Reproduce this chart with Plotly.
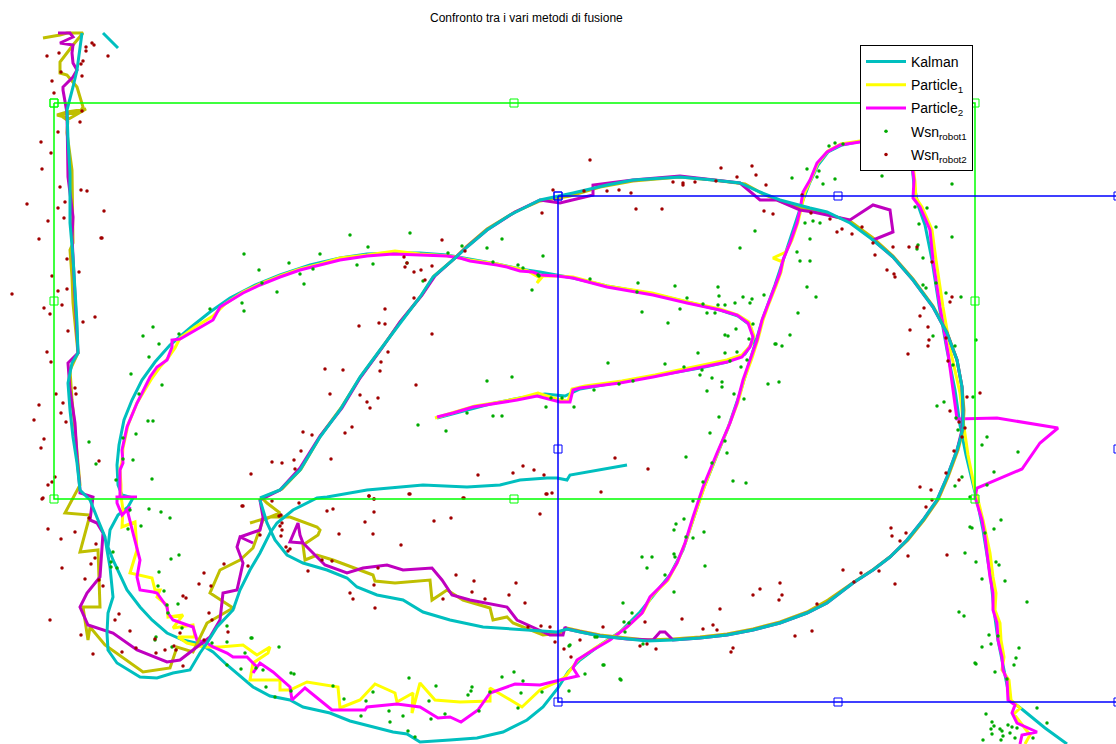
import plotly.graph_objects as go

# ---------------- Robot 1 trajectories ----------------
kalman1_x = [437, 460, 490, 520, 545, 565, 580, 620, 660, 700, 727, 745, 754, 750, 738, 720, 687, 653, 607, 573,
             540, 520, 497, 470, 447, 420, 393, 367, 340, 310, 280, 255, 230, 210, 190, 170, 155, 142, 132, 124,
             119, 117, 118, 122, 133, 128, 118, 110, 108, 113, 120, 127, 140, 152, 167, 183, 200, 213, 227, 253,
             270, 290, 303, 330, 350, 373, 393, 407, 420, 450, 477, 503, 527, 543, 558, 568, 580, 600, 620, 640,
             655, 670, 683, 693, 703, 717, 728, 740, 752, 763, 775, 785, 795, 803, 810, 818, 828, 842, 862, 885,
             903, 912, 914, 918, 925, 932, 939, 947, 955, 960, 966, 972, 978, 983, 987, 991, 994, 998, 1002, 1006,
             1010, 1023, 1045, 1067]
kalman1_y = [418, 412, 404, 398, 394, 396, 389, 382, 375, 368, 362, 354, 340, 325, 316, 310, 302, 294, 286, 278,
             272, 269, 264, 259, 255, 253, 253, 254, 258, 265, 275, 285, 298, 312, 328, 345, 362, 380, 400, 420,
             445, 465, 485, 495, 498, 507, 515, 530, 547, 560, 575, 590, 607, 620, 633, 640, 644, 652, 665, 687,
             696, 700, 707, 713, 721, 727, 732, 734, 742, 740, 738, 732, 720, 707, 688, 672, 660, 645, 632, 612,
             593, 575, 550, 520, 490, 455, 428, 393, 355, 318, 285, 255, 225, 200, 182, 165, 152, 145, 141, 141,
             148, 165, 185, 205, 225, 260, 305, 350, 390, 425, 455, 480, 505, 530, 555, 580, 610, 640, 660, 680,
             700, 710, 728, 744]

part1_r1_x = [435, 455, 475, 500, 520, 538, 560, 568, 572, 585, 622, 655, 700, 727, 742, 751, 754, 749, 738, 720,
              688, 652, 607, 573, 558, 543, 537, 540, 528, 510, 497, 470, 450, 420, 395, 367, 340, 320, 300, 280,
              260, 243, 225, 213, 195, 180, 175, 168, 160, 152, 145, 137, 128, 123, 122, 120, 121, 121, 123, 122,
              135, 137, 130, 152, 155, 160, 157, 167, 168, 183, 173, 193, 195, 178, 187, 203, 220, 243, 257, 270,
              268, 253, 250, 280, 280, 290, 307, 338, 340, 360, 375, 395, 397, 413, 412, 420, 435, 460, 490, 490,
              507, 522, 540, 557, 565, 572, 578, 595, 612, 628, 643, 651, 668, 678, 686, 695, 705, 718, 728, 738,
              744, 752, 758, 763, 768, 776, 781, 783, 773, 786, 792, 798, 801, 805, 811, 818, 828, 841, 860, 885,
              905, 913, 915, 916, 922, 932, 936, 943, 951, 960, 963, 968, 975, 978, 983, 987, 990, 993, 996, 995,
              1000, 1001, 1004, 1002, 1009, 1011, 1020, 1014, 1020, 1030, 1025]
part1_r1_y = [418, 412, 406, 402, 398, 393, 400, 401, 389, 386, 381, 375, 366, 360, 355, 345, 336, 322, 315, 309,
              302, 293, 286, 277, 276, 276, 283, 278, 271, 267, 264, 260, 256, 254, 251, 255, 258, 264, 269, 276,
              284, 292, 304, 316, 327, 338, 348, 358, 367, 378, 390, 403, 425, 448, 462, 470, 485, 496, 510, 527,
              522, 550, 573, 578, 590, 590, 597, 605, 617, 615, 628, 625, 637, 637, 643, 647, 647, 645, 655, 647,
              653, 663, 680, 680, 690, 690, 682, 687, 708, 700, 684, 693, 702, 693, 713, 683, 700, 702, 701, 688,
              698, 707, 690, 682, 677, 668, 660, 648, 638, 626, 612, 597, 580, 561, 541, 514, 485, 452, 428, 402,
              380, 358, 339, 320, 306, 286, 272, 262, 258, 252, 240, 222, 210, 192, 179, 163, 151, 144, 141, 141,
              150, 165, 182, 198, 207, 230, 260, 307, 353, 393, 420, 455, 490, 500, 520, 537, 553, 577, 593, 610,
              623, 640, 657, 670, 680, 700, 708, 714, 722, 735, 744]

part2_r1_x = [437, 453, 473, 487, 517, 537, 560, 570, 573, 580, 620, 653, 703, 727, 742, 750, 753, 748, 737, 720,
              687, 653, 607, 573, 557, 540, 533, 520, 507, 497, 470, 460, 447, 420, 393, 367, 340, 320, 300, 280,
              260, 243, 220, 213, 180, 172, 172, 167, 157, 150, 137, 127, 122, 123, 120, 120, 120, 137, 117, 117,
              122, 130, 128, 133, 140, 137, 140, 153, 157, 167, 168, 173, 193, 197, 207, 213, 227, 233, 247, 257,
              253, 260, 273, 290, 292, 305, 332, 365, 367, 387, 397, 420, 438, 450, 461, 478, 490, 515, 530, 540,
              560, 578, 573, 577, 593, 610, 627, 642, 650, 667, 677, 685, 693, 703, 717, 727, 730, 737, 743, 750,
              757, 762, 767, 775, 780, 783, 790, 797, 800, 803, 810, 817, 827, 840, 860, 885, 905, 912, 914, 913,
              920, 930, 933, 940, 948, 957, 997, 1058, 1040, 1022, 977, 975, 982, 985, 987, 990, 993, 993, 997, 998,
              1002, 1003, 1007, 1008, 1015, 1012, 1017, 1037, 1022, 1020]
part2_r1_y = [417, 413, 407, 405, 400, 396, 402, 402, 390, 388, 383, 377, 367, 362, 357, 347, 337, 323, 315, 310,
              303, 295, 287, 278, 276, 275, 272, 271, 267, 265, 261, 258, 256, 255, 254, 256, 260, 265, 270, 277,
              285, 293, 307, 320, 339, 340, 347, 360, 367, 377, 403, 427, 450, 463, 470, 483, 497, 497, 497, 503,
              515, 507, 513, 533, 560, 577, 590, 592, 593, 607, 613, 620, 627, 640, 643, 647, 653, 657, 657, 667,
              673, 663, 672, 687, 700, 688, 710, 710, 707, 705, 704, 707, 718, 717, 722, 710, 693, 684, 685, 685,
              680, 676, 668, 660, 650, 640, 627, 613, 597, 580, 563, 543, 517, 487, 453, 430, 423, 403, 380, 360,
              340, 320, 307, 287, 273, 260, 243, 223, 210, 192, 180, 163, 152, 145, 142, 142, 150, 165, 180, 198,
              207, 230, 260, 307, 353, 419, 418, 428, 443, 469, 488, 497, 520, 537, 553, 577, 593, 610, 623, 640,
              657, 670, 680, 700, 705, 713, 723, 732, 735, 744]

# ---------------- Robot 2 trajectories ----------------
kalman2_x = [118, 110, 103, None,
             82, 80, 77, 73, 67, 68, 70, 70, 73, 75, 77, 78, 72, 68, 70, 73, 77, 80, 83, 90, 98, 105, 107, 110,
             113, 108, 107, 108, 117, 140, 157, 173, 190, 200, 207, 217, 233, 240, 250, 260, 270, 277, 293, 317,
             327, 367, 423, 467, 500, 520, 547, 557, 567, 570, 627, None,
             260, 280, 300, 320, 340, 360, 380, 400, 420, 433, 453, 467, 487, 510, 540, 573, 607, 633, 680, 713,
             740, 760, 780, 810, 827, 850, 873, 893, 913, 933, 947, 957, 962, 963, 963, 960, 957, 947, 937, 923,
             907, 890, 873, 853, 827, 807, 780, 753, 727, 700, 673, 647, 627, 600, 580, 567, 557, 517, 483, 450,
             423, 403, 377, 357, 347, 327, 303, 287, 275, 267, 260]
kalman2_y = [48, 40, 33, None,
             33, 50, 70, 87, 110, 140, 173, 223, 257, 290, 323, 353, 363, 383, 410, 437, 463, 490, 493, 500, 520,
             537, 550, 567, 597, 613, 633, 650, 663, 677, 678, 673, 670, 653, 643, 627, 610, 590, 570, 553, 533,
             523, 510, 498, 497, 490, 485, 487, 485, 480, 478, 478, 480, 475, 465, None,
             498, 490, 470, 437, 410, 377, 350, 323, 297, 277, 260, 247, 230, 215, 200, 193, 185, 180, 177, 180,
             183, 192, 200, 208, 212, 223, 240, 257, 280, 307, 333, 360, 387, 407, 427, 440, 450, 477, 500, 520,
             540, 557, 570, 583, 603, 613, 623, 630, 635, 638, 640, 641, 639, 636, 632, 629, 632, 629, 627, 620,
             612, 600, 595, 587, 578, 570, 563, 555, 540, 523, 500]

part1_r2_x = [43, 60, 67, 83, 73, 60, 60, 67, 77, 83, 80, 60, 67, 86, 67, 57, 68, 67, 72, 73, 70, 72, 73, 78,
              70, 72, 75, 78, 80, 65, 90, 80, 98, 100, 83, 88, 90, 105, 143, 170, 177, 193, 207, 233, 210, 220,
              240, 253, 263, 280, 267, 262, 282, 301, 321, 341, 361, 381, 401, 421, 434, 454, 467, 487, 515, 540,
              570, 600, 633, 680, 713, 745, 765, 790, 813, 850, 873, 893, 913, 933, 947, 957, 962, 964, 963, 958,
              948, 938, 924, 908, 891, 874, 854, 828, 807, 780, 753, 727, 700, 673, 647, 627, 600, 580, 567, 560,
              543, 513, 507, 493, 490, 463, 447, 432, 430, 395, 375, 373, 352, 333, 317, 305, 303, 318, 320, 317,
              290, 270, 250]
part1_r2_y = [38, 35, 33, 33, 45, 62, 73, 75, 87, 107, 112, 115, 120, 109, 112, 115, 118, 133, 170, 243, 250,
              277, 303, 353, 370, 400, 430, 460, 485, 513, 515, 552, 550, 607, 607, 640, 627, 645, 672, 668, 647,
              652, 623, 608, 593, 570, 560, 548, 520, 513, 503, 498, 489, 469, 435, 408, 376, 349, 321, 296, 276,
              259, 246, 229, 212, 201, 196, 187, 181, 177, 180, 184, 195, 205, 210, 221, 238, 256, 279, 306, 332,
              360, 387, 410, 430, 450, 477, 500, 520, 540, 556, 569, 582, 600, 612, 622, 629, 634, 637, 639, 640,
              638, 635, 631, 628, 633, 635, 623, 617, 620, 608, 600, 590, 600, 580, 583, 581, 575, 567, 560, 555,
              560, 545, 535, 530, 527, 517, 517, 523]

part2_r2_x = [58, 70, 73, 60, 73, 72, 73, 77, 73, 63, 63, 67, 68, 73, 72, 75, 78, 68, 70, 75, 77, 80, 80, 93, 90,
              97, 103, 100, 87, 80, 88, 113, 137, 167, 180, 193, 210, 220, 223, 237, 243, 237, 240, 253, 240, 260,
              263, 260, 280, 300, 320, 342, 360, 382, 400, 422, 435, 455, 468, 487, 515, 540, 560, 593, 593, 617,
              633, 680, 713, 740, 760, 777, 800, 813, 850, 873, 890, 893, 873, 893, 913, 933, 947, 957, 962, 963,
              962, 957, 947, 937, 923, 907, 890, 873, 853, 827, 807, 780, 753, 727, 700, 673, 665, 660, 653, 627,
              600, 580, 567, 565, 563, 550, 533, 517, 507, 470, 452, 442, 432, 403, 387, 363, 347, 325, 303, 300,
              298, 290, 303]
part2_r2_y = [33, 33, 37, 43, 45, 53, 63, 70, 77, 87, 90, 113, 177, 217, 237, 297, 353, 363, 390, 423, 457, 490,
              493, 497, 520, 523, 533, 577, 593, 607, 625, 633, 650, 662, 660, 650, 637, 620, 593, 590, 563, 547,
              537, 543, 537, 530, 517, 500, 490, 468, 436, 408, 378, 348, 322, 295, 276, 258, 246, 230, 212, 200,
              203, 195, 185, 182, 180, 176, 180, 183, 200, 200, 210, 212, 220, 205, 210, 232, 240, 257, 280, 307,
              333, 360, 387, 410, 430, 450, 477, 500, 520, 540, 557, 570, 583, 603, 613, 623, 630, 635, 638, 640,
              632, 632, 640, 639, 636, 632, 629, 627, 635, 635, 627, 620, 607, 600, 595, 580, 568, 570, 565, 568,
              573, 565, 543, 535, 523, 542, 543]

# ---------------- WSN position estimates ----------------
wsn1_x = [350, 410, 368, 244, 320, 289, 259, 313, 300, 357, 373, 407, 448, 462, 487, 502, 493, 518, 523, 543, 538,
          532, 423, 304, 277, 262, 242, 244, 210, 153, 143, 179, 159, 149, 131, 162, 139, 148, 153, 136, 123, 133,
          116, 152, 89, 123, 96, 487, 512, 418, 446, 467, 493, 502, 546, 551, 590, 638, 637, 675, 687, 703, 718,
          719, 718, 725, 735, 743, 752, 750, 764, 707, 715, 642, 680, 668, 753, 736, 725, 728, 749, 776, 725, 737,
          698, 730, 741, 747, 665, 684, 608, 702, 700, 712, 722, 722, 707, 734, 744, 768, 779, 619, 633, 594, 574,
          562, 539, 719, 710, 725, 727, 686, 712, 703, 733, 746, 835, 829, 843, 807, 819, 817, 835, 823, 792, 882,
          952, 915, 927, 805, 813, 820, 810, 755, 740, 797, 800, 810, 919, 936, 952, 918, 917, 923, 936, 946, 961,
          807, 816, 798, 790, 775, 782, 923, 926, 933, 955, 976, 953, 973, 937, 944, 693, 684, 676, 674, 704, 686,
          693, 642, 652, 674, 675, 647, 705, 665, 674, 623, 632, 624, 629, 625, 595, 643, 570, 603, 585, 620, 970,
          972, 965, 976, 959, 964, 975, 955, 962, 956, 958, 987, 982, 1018, 994, 987, 970, 1001, 994, 985, 996,
          999, 982, 1005, 1027, 989, 998, 991, 982, 1019, 1016, 1014, 976, 995, 1007, 1037, 986, 992, 994, 991,
          1000, 1002, 1047, 1008, 1012, 992, 1003, 1010, 1015, 1001, 983, 1017, 1033, 569, 569, 597, 604, 621,
          252, 256, 263, 291, 294, 266, 275, 291, 333, 344, 366, 373, 361, 389, 390, 403, 409, 429, 436, 431, 408,
          415, 445, 468, 472, 471, 479, 490, 502, 514, 523, 521, 518, 542, 130, 149, 161, 170, 141, 128, 113, 171,
          179, 111, 111, 117, 159, 158, 164, 167, 178, 168, 182, 156, 155, 172, 212, 227, 227, 251, 245, 227, 241,
          279]
wsn1_y = [235, 233, 247, 254, 254, 263, 270, 269, 274, 265, 264, 263, 253, 246, 248, 239, 262, 265, 268, 256, 275,
          290, 281, 284, 292, 283, 303, 311, 309, 327, 336, 334, 344, 357, 374, 385, 394, 421, 421, 434, 438, 460,
          480, 479, 442, 459, 464, 381, 377, 425, 431, 413, 416, 416, 407, 398, 279, 283, 292, 286, 298, 304, 287,
          296, 305, 305, 303, 297, 299, 303, 295, 313, 313, 312, 309, 323, 324, 329, 335, 336, 339, 344, 353, 352,
          353, 361, 367, 360, 364, 367, 363, 370, 375, 378, 382, 387, 391, 394, 399, 384, 382, 384, 381, 390, 407,
          398, 276, 417, 433, 441, 453, 457, 463, 482, 481, 483, 143, 146, 144, 169, 171, 177, 179, 184, 178, 176,
          184, 207, 208, 223, 221, 223, 239, 231, 248, 252, 261, 261, 224, 227, 237, 245, 249, 258, 283, 293, 297,
          287, 297, 313, 335, 344, 346, 285, 288, 336, 346, 340, 365, 397, 406, 402, 501, 519, 524, 530, 532, 537,
          538, 557, 557, 554, 557, 568, 566, 575, 592, 603, 613, 622, 623, 632, 637, 644, 645, 665, 674, 679, 527,
          528, 553, 562, 612, 616, 663, 486, 477, 418, 430, 437, 445, 452, 472, 485, 497, 520, 529, 533, 562, 565,
          579, 581, 602, 635, 636, 644, 647, 648, 658, 665, 664, 672, 679, 708, 714, 722, 726, 729, 729, 731, 723,
          725, 727, 734, 736, 733, 738, 740, 740, 728, 738, 691, 646, 637, 665, 680, 638, 668, 670, 673, 674, 687,
          697, 691, 686, 699, 701, 692, 716, 711, 722, 716, 678, 701, 686, 719, 731, 737, 714, 695, 687, 691, 711,
          692, 677, 672, 681, 693, 708, 692, 510, 509, 512, 518, 526, 529, 552, 559, 555, 562, 567, 568, 572, 586,
          591, 605, 604, 613, 628, 637, 640, 647, 643, 626, 642, 638, 653, 665, 669, 647]

wsn2_x = [92, 94, 86, 86, 47, 108, 59, 83, 81, 61, 82, 52, 54, 82, 80, 58, 41, 51, 42, 60, 81, 87, 27, 65, 58, 104,
          64, 48, 39, 101, 67, 79, 52, 12, 58, 67, 62, 44, 50, 95, 83, 68, 47, 51, 75, 76, 56, 39, 63, 61, 34, 66,
          44, 41, 99, 55, 52, 48, 42, 43, 48, 61, 75, 89, 96, 95, 91, 62, 85, 99, 103, 50, 81, 93, 115, 119, 130,
          122, 136, 155, 156, 165, 174, 176, 180, 183, 186, 183, 199, 204, 211, 209, 212, 204, 224, 228, 243, 248,
          260, 279, 280, 288, 282, 272, 299, 281, 282, 281, 286, 290, 327, 333, 322, 332, 339, 369, 374, 374, 365,
          373, 378, 374, 350, 353, 375, 308, 401, 410, 434, 451, 464, 443, 456, 472, 474, 485, 509, 516, 525, 540,
          546, 552, 601, 541, 550, 528, 555, 564, 571, 580, 603, 640, 647, 656, 645, 615, 648, 682, 703, 713, 717,
          720, 731, 733, 753, 760, 780, 782, 779, 795, 812, 817, 843, 861, 879, 854, 895, 908, 891, 892, 900, 906,
          920, 931, 926, 932, 947, 946, 959, 954, 962, 721, 737, 716, 752, 756, 766, 764, 773, 802, 811, 830, 842,
          837, 852, 862, 873, 875, 893, 909, 917, 887, 894, 895, 932, 924, 920, 928, 910, 929, 928, 952, 950, 946,
          908, 948, 950, 967, 959, 965, 980, 553, 584, 607, 619, 631, 673, 683, 683, 695, 636, 662, 542, 590, 102,
          442, 465, 404, 407, 405, 414, 421, 432, 425, 414, 385, 359, 379, 385, 432, 388, 381, 380, 325, 343, 416,
          330, 360, 367, 378, 370, 352, 345, 303, 312, 301, 331, 272, 282, 294, 295, 251, 478, 513, 523, 534, 544,
          547, 463, 409, 369, 374, 242]
wsn2_y = [43, 45, 47, 51, 56, 56, 53, 61, 64, 72, 76, 81, 93, 111, 122, 132, 142, 153, 169, 187, 190, 191, 204,
          202, 208, 211, 218, 221, 239, 238, 259, 272, 276, 294, 291, 289, 305, 308, 314, 317, 322, 331, 352, 362,
          388, 394, 394, 405, 403, 413, 420, 422, 439, 448, 461, 477, 482, 485, 499, 498, 529, 539, 532, 518, 544,
          558, 564, 568, 579, 580, 586, 620, 635, 654, 620, 614, 631, 652, 648, 639, 653, 650, 646, 650, 633, 666,
          598, 596, 584, 573, 586, 613, 620, 640, 564, 632, 506, 566, 535, 516, 526, 551, 530, 501, 503, 515, 523,
          536, 547, 549, 511, 509, 560, 561, 534, 496, 499, 512, 522, 534, 568, 585, 593, 599, 608, 571, 545, 494,
          521, 518, 498, 599, 575, 592, 581, 599, 595, 583, 603, 514, 494, 493, 492, 626, 627, 627, 642, 649, 657,
          640, 627, 646, 644, 649, 622, 458, 469, 619, 629, 625, 630, 609, 652, 648, 595, 589, 583, 595, 600, 636,
          631, 604, 570, 573, 571, 582, 584, 556, 528, 536, 541, 533, 487, 490, 507, 500, 555, 473, 480, 451, 437,
          168, 177, 181, 166, 175, 185, 211, 214, 195, 213, 219, 229, 232, 234, 227, 243, 255, 247, 247, 247, 270,
          274, 277, 262, 308, 316, 327, 330, 340, 346, 297, 302, 338, 354, 361, 411, 397, 422, 428, 393, 190, 191,
          191, 190, 193, 182, 183, 185, 182, 209, 209, 213, 160, 238, 240, 251, 257, 263, 267, 272, 270, 266, 280,
          298, 309, 326, 323, 324, 334, 352, 362, 371, 369, 370, 385, 394, 395, 402, 398, 408, 427, 433, 432, 435,
          451, 459, 462, 463, 460, 469, 474, 475, 473, 466, 470, 475, 494, 498, 494, 496, 499, 506]

# ---------------- Sensor areas (corners and mid-points) ----------------
area1_x = [54, 514, 975, 975, 975, 514, 54, 54, 54]
area1_y = [103, 103, 103, 301, 499, 499, 499, 301, 103]
area2_x = [558, 838, 1118, 1118, 1118, 838, 558, 558, 558]
area2_y = [196, 196, 196, 449, 702, 702, 702, 449, 196]

CYAN = "rgb(0,191,191)"
YELLOW = "rgb(255,255,0)"
MAGENTA = "rgb(255,0,255)"
OLIVE = "rgb(191,191,0)"
PURPLE = "rgb(191,0,191)"
LW = 3

fig = go.Figure()

# robot 1 (each legend entry in its own group so the group gap spaces the rows)
fig.add_trace(go.Scatter(x=kalman1_x, y=kalman1_y, mode="lines", name="Kalman", legendgroup="k",
                         line=dict(color=CYAN, width=LW)))
fig.add_trace(go.Scatter(x=part1_r1_x, y=part1_r1_y, mode="lines", name="Particle<sub>1</sub>",
                         legendgroup="p1", line=dict(color=YELLOW, width=LW)))
fig.add_trace(go.Scatter(x=part2_r1_x, y=part2_r1_y, mode="lines", name="Particle<sub>2</sub>",
                         legendgroup="p2", line=dict(color=MAGENTA, width=LW)))

# robot 2
fig.add_trace(go.Scatter(x=part1_r2_x, y=part1_r2_y, mode="lines", showlegend=False,
                         line=dict(color=OLIVE, width=LW)))
fig.add_trace(go.Scatter(x=part2_r2_x, y=part2_r2_y, mode="lines", showlegend=False,
                         line=dict(color=PURPLE, width=LW)))
fig.add_trace(go.Scatter(x=kalman2_x, y=kalman2_y, mode="lines", showlegend=False,
                         line=dict(color=CYAN, width=LW)))

# WSN estimates
fig.add_trace(go.Scatter(x=wsn1_x, y=wsn1_y, mode="markers", name="Wsn<sub>robot1</sub>", legendgroup="w1",
                         marker=dict(color="rgb(0,170,0)", size=3.5)))
fig.add_trace(go.Scatter(x=wsn2_x, y=wsn2_y, mode="markers", name="Wsn<sub>robot2</sub>", legendgroup="w2",
                         marker=dict(color="rgb(160,0,0)", size=3.5)))

# sensor areas
fig.add_trace(go.Scatter(x=area1_x, y=area1_y, mode="lines+markers", showlegend=False,
                         line=dict(color="rgb(0,255,0)", width=1.5),
                         marker=dict(symbol="square-open", size=8, color="rgb(0,255,0)", line=dict(width=1))))
fig.add_trace(go.Scatter(x=area2_x, y=area2_y, mode="lines+markers", showlegend=False,
                         line=dict(color="rgb(0,0,255)", width=1.5),
                         marker=dict(symbol="square-open", size=8, color="rgb(0,0,255)", line=dict(width=1))))

fig.update_layout(
    width=1116, height=744,
    margin=dict(l=0, r=0, t=0, b=0),
    paper_bgcolor="white", plot_bgcolor="white",
    font=dict(family="Liberation Sans, Arial, sans-serif", color="black"),
    xaxis=dict(range=[0, 1116], visible=False),
    yaxis=dict(range=[744, 0], visible=False),
    showlegend=True,
    legend=dict(x=860 / 1116, y=1 - 45 / 744, xanchor="left", yanchor="top",
                bgcolor="white", bordercolor="black", borderwidth=1,
                font=dict(size=14, family="Liberation Sans, Arial, sans-serif"),
                itemwidth=40, tracegroupgap=2),
    annotations=[dict(text="Confronto tra i vari metodi di fusione", x=526 / 1116, y=1 - 18 / 744,
                      xref="paper", yref="paper", xanchor="center", yanchor="middle",
                      showarrow=False, font=dict(size=12))],
)

fig.write_html("out.html")
